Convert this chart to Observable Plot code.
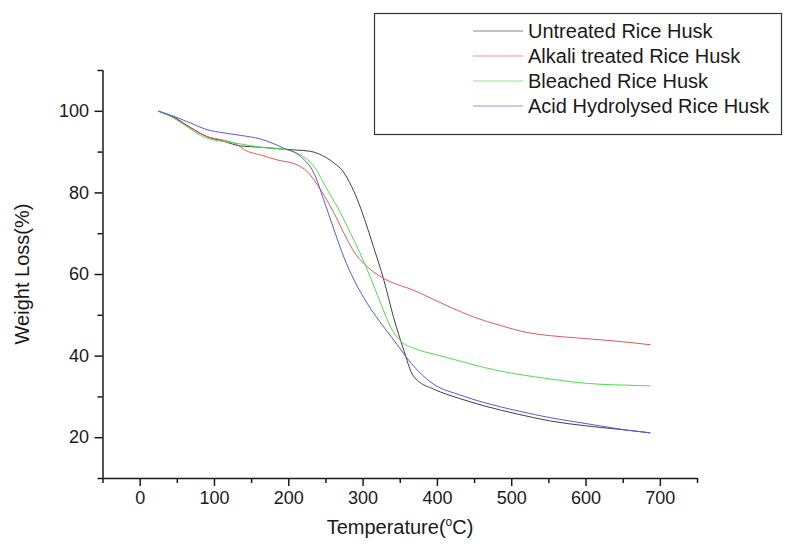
<!DOCTYPE html>
<html>
<head>
<meta charset="utf-8">
<script src="https://cdn.jsdelivr.net/npm/d3@7"></script>
<script src="https://cdn.jsdelivr.net/npm/@observablehq/plot@0.6"></script>
<style>
  html, body { margin: 0; padding: 0; background: #fff; }
  #chart svg { display: block; }
</style>
</head>
<body>
<div id="chart"></div>
<script>
// Series names and colours
const seriesNames = ["Untreated Rice Husk", "Alkali treated Rice Husk", "Bleached Rice Husk", "Acid Hydrolysed Rice Husk"];
const seriesColors = ["#404040", "#e05a5a", "#4fdc4f", "#5a5ad2"];

// [temperature °C, weight %]
const untreated = [[25,100],[45,98.6],[68,96],[90,93.8],[113,92.6],[135,91.5],[162,91.2],[193,90.7],[210,90.5],[229,90.2],[240,89.6],[251,88.6],[261,87.3],[272,85.5],[282,82.5],[292,78.5],[302,73.5],[314,66.8],[328,58.6],[341,49.5],[355,41.3],[366,35.6],[373,34.1],[395,31.9],[430,29.6],[463,27.8],[510,25.7],[552,24.1],[600,22.9],[642,22.1],[686,21.2]];
const alkali = [[25,100],[45,98.4],[68,95.9],[90,93.8],[113,92.9],[131,91.8],[140,90.6],[162,89.3],[184,88.1],[211,86.9],[225,85.2],[243,80.7],[261,75],[279,68.4],[288,65.5],[301,62.7],[328,59],[350,57.3],[363,56.5],[390,54.3],[417,52],[450,49.5],[485,47.5],[520,45.8],[552,45],[585,44.5],[619,44],[650,43.5],[686,42.8]];
const bleached = [[25,100],[41,98.8],[59,96.7],[72,95.1],[90,93.4],[113,92.6],[135,92],[162,91.2],[193,90.7],[216,89.3],[234,86.5],[252,80.7],[270,75],[283,70.1],[294,66],[306,61],[324,52.8],[337,47.1],[350,43.8],[370,41.8],[395,40.5],[430,38.8],[463,37.2],[510,35.5],[552,34.4],[585,33.6],[619,33.1],[650,32.9],[686,32.7]];
const acid = [[25,100],[45,98.8],[68,97.1],[90,95.5],[113,94.7],[135,94.1],[162,93.2],[193,91],[216,88.9],[234,84.8],[247,78.3],[261,70.9],[274,64.3],[288,58.6],[306,52.8],[328,47.1],[350,41.8],[357,40],[375,36.2],[395,33.1],[430,30.5],[463,28.6],[510,26.5],[552,24.9],[585,23.9],[619,22.9],[650,22],[686,21.2]];

// Axis ticks
const xMajorTicks = [0, 100, 200, 300, 400, 500, 600, 700];
const xMinorTicks = [-50, 50, 150, 250, 350, 450, 550, 650, 750];
const yMajorTicks = [20, 40, 60, 80, 100];
const yMinorTicks = [10, 30, 50, 70, 90, 110];

const allSeries = [untreated, alkali, bleached, acid];
const rows = allSeries.flatMap((s, i) => s.map(([t, w]) => ({series: seriesNames[i], t, w})));

const font = "'Liberation Sans', Arial, sans-serif";

const chart = Plot.plot({
  width: 788,
  height: 545,
  marginLeft: 102.5,
  marginRight: 91,
  marginTop: 70,
  marginBottom: 67,
  style: {fontFamily: font, fontSize: "18px", color: "#1a1a1a", background: "#fff", overflow: "visible"},
  x: {domain: [-50, 750]},
  y: {domain: [10, 110]},
  color: {domain: seriesNames, range: seriesColors},
  marks: [
    Plot.axisX(xMinorTicks, {tickSize: 5, text: null, strokeWidth: 1.5, label: null}),
    Plot.axisX(xMajorTicks, {tickSize: 8, tickPadding: 5, strokeWidth: 1.5, label: null, fontSize: 18}),
    Plot.axisY(yMinorTicks, {tickSize: 5, text: null, strokeWidth: 1.5, label: null}),
    Plot.axisY(yMajorTicks, {tickSize: 8, tickPadding: 6, strokeWidth: 1.5, label: null, fontSize: 18}),
    Plot.ruleX([-50], {stroke: "#1a1a1a", strokeWidth: 1.5}),
    Plot.ruleY([10], {stroke: "#1a1a1a", strokeWidth: 1.5}),
    Plot.line(rows, {x: "t", y: "w", z: "series", stroke: "series", strokeWidth: 1, curve: "monotone-x"})
  ]
});

document.getElementById("chart").appendChild(chart);

const svg = d3.select(chart);

// Axis titles
const xt = svg.append("text")
  .attr("x", 400).attr("y", 534)
  .attr("text-anchor", "middle")
  .attr("font-family", font).attr("font-size", 20).attr("fill", "#1a1a1a");
xt.append("tspan").text("Temperature(");
xt.append("tspan").attr("font-size", 12).attr("dy", -8).text("o");
xt.append("tspan").attr("dy", 8).text("C)");

svg.append("text")
  .attr("transform", "translate(29,274) rotate(-90)")
  .attr("text-anchor", "middle")
  .attr("font-family", font).attr("font-size", 20).attr("fill", "#1a1a1a")
  .text("Weight Loss(%)");

// Legend box
const lg = svg.append("g").attr("text-anchor", "start");
lg.append("rect").attr("x", 374.5).attr("y", 13.5).attr("width", 407).attr("height", 121)
  .attr("fill", "#fff").attr("stroke", "#333").attr("stroke-width", 1.2);
seriesNames.forEach((name, i) => {
  const yy = 31 + i * 25;
  lg.append("line").attr("x1", 473).attr("x2", 523).attr("y1", yy).attr("y2", yy)
    .attr("stroke", seriesColors[i]).attr("stroke-width", 1.2).attr("stroke-opacity", 0.65);
  lg.append("text").attr("x", 528).attr("y", yy).attr("dy", "0.35em")
    .attr("text-anchor", "start")
    .attr("font-family", font).attr("font-size", 20).attr("fill", "#1a1a1a").text(name);
});
</script>
</body>
</html>
